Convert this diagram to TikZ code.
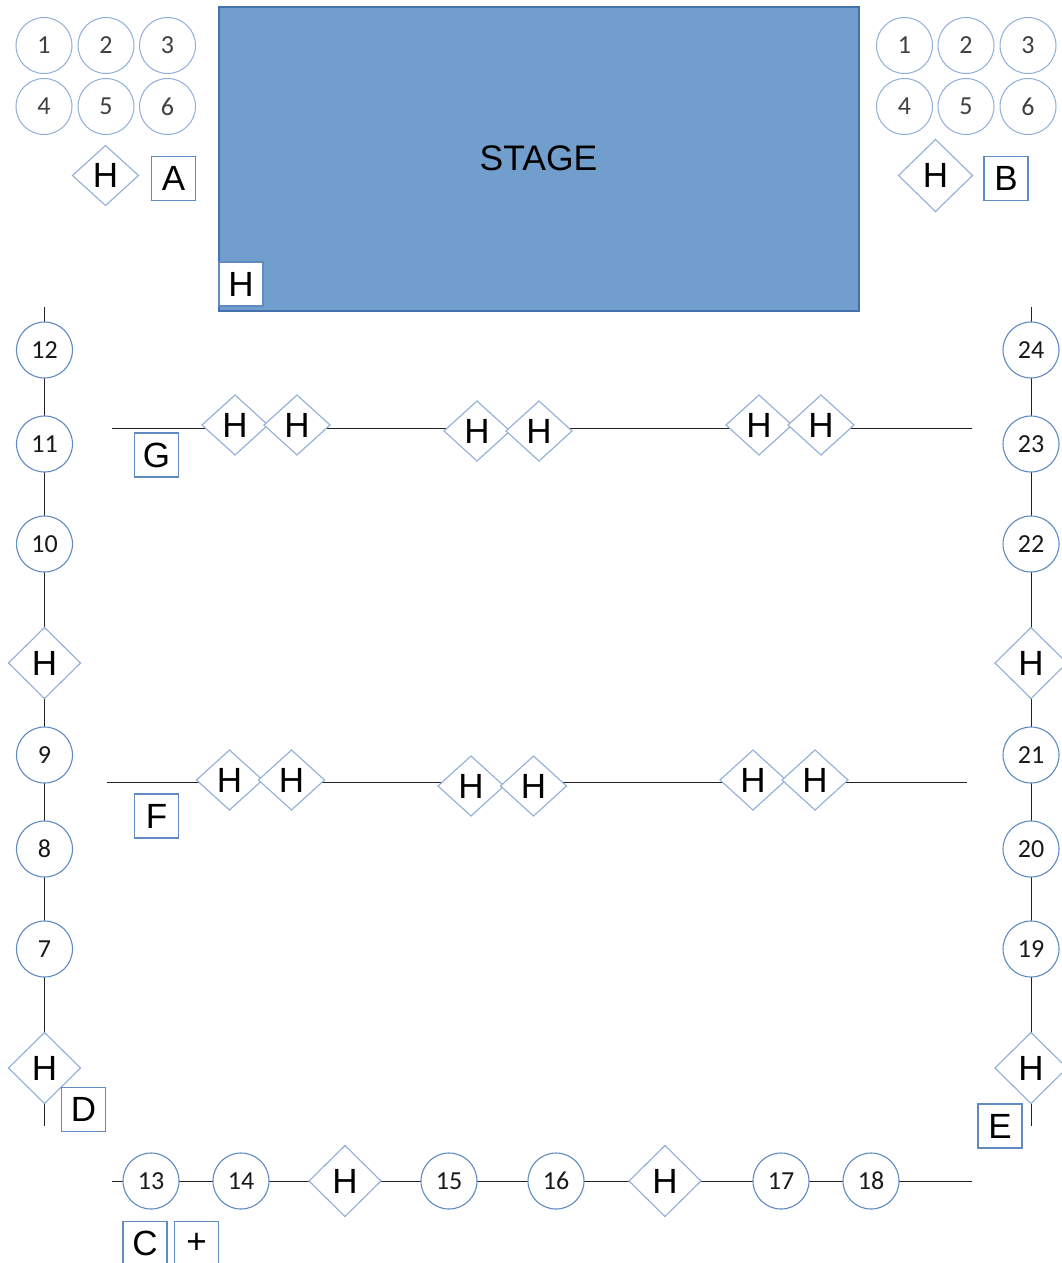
\documentclass[tikz,border=0pt]{standalone}
\usepackage{fontspec}
\setmainfont{Liberation Sans}
\newfontfamily\digitfont{Carlito}
\usetikzlibrary{shapes.geometric,backgrounds}
\definecolor{edgeblue}{HTML}{5F8AC2}
\definecolor{paleblue}{HTML}{8FAED8}
\definecolor{stageblue}{HTML}{729ECE}
\definecolor{stageedge}{HTML}{4472AC}
\definecolor{inkline}{HTML}{222222}
\tikzset{
  seat/.style={circle,draw=edgeblue,line width=1.1pt,fill=white,minimum size=56pt,inner sep=0pt,outer sep=0pt,font=\digitfont\fontsize{26}{26}\selectfont,text=black!90},
  seatpale/.style={seat,draw=paleblue,line width=1pt,text=black!75},
  gate/.style={diamond,draw=paleblue,line width=1.1pt,fill=white,minimum width=66pt,minimum height=60pt,inner sep=0pt,outer sep=0pt,font=\fontsize{35}{35}\selectfont},
  gatebig/.style={gate,draw=paleblue,minimum width=72pt,minimum height=71pt},
  tagbox/.style={rectangle,draw=edgeblue,line width=1.4pt,fill=white,minimum size=44pt,inner sep=0pt,outer sep=0pt,font=\fontsize{35}{35}\selectfont},
  rail/.style={draw=inkline,line width=1pt}
}
\begin{document}
\begin{tikzpicture}[x=1pt,y=-1pt]
\useasboundingbox (0,0) rectangle (1061,1263);
% stage
\node[rectangle,draw=stageedge,line width=1.2pt,fill=stageblue,minimum width=640pt,minimum height=304pt,inner sep=0pt,outer sep=0pt] (stage) at (539,159) {};
\node[font=\fontsize{35.5}{35.5}\selectfont,inner sep=0pt] (stagetext) at (538.5,158) {STAGE};
\node[tagbox] (stageH) at (241,284) {H};
% block A
\node[seatpale] (a1) at (44,45.5) {1};
\node[seatpale] (a2) at (106,45.5) {2};
\node[seatpale] (a3) at (167.5,45.5) {3};
\node[seatpale] (a4) at (44,106.5) {4};
\node[seatpale] (a5) at (106,106.5) {5};
\node[seatpale] (a6) at (167.5,106.5) {6};
\node[gate] (aH) at (105.5,175.5) {H};
\node[tagbox] (tagA) at (173.5,178.5) {A};
% block B
\node[seatpale] (b1) at (904.5,45.5) {1};
\node[seatpale] (b2) at (966,45.5) {2};
\node[seatpale] (b3) at (1028,45.5) {3};
\node[seatpale] (b4) at (904.5,106.5) {4};
\node[seatpale] (b5) at (966,106.5) {5};
\node[seatpale] (b6) at (1028,106.5) {6};
\node[gate,minimum width=74pt,minimum height=72pt] (bH) at (935.5,175.5) {H};
\node[tagbox] (tagB) at (1006,178.5) {B};
% left column
\coordinate (ltop) at (44.5,307);
\coordinate (lbot) at (44.5,1126);
\node[seat] (n12) at (44.5,350) {12};
\node[seat] (n11) at (44.5,444) {11};
\node[seat] (n10) at (44.5,544) {10};
\node[gatebig] (lH1) at (44.5,663) {H};
\node[seat] (n9) at (44.5,755) {9};
\node[seat] (n8) at (44.5,849) {8};
\node[seat] (n7) at (44.5,949) {7};
\node[gatebig] (lH2) at (44.5,1068) {H};
\node[tagbox] (tagD) at (83.5,1109.5) {D};
% right column
\coordinate (rtop) at (1031,307);
\coordinate (rbot) at (1031,1126);
\node[seat] (n24) at (1031,350) {24};
\node[seat] (n23) at (1031,444) {23};
\node[seat] (n22) at (1031,544) {22};
\node[gatebig] (rH1) at (1031,663) {H};
\node[seat] (n21) at (1031,755) {21};
\node[seat] (n20) at (1031,849) {20};
\node[seat] (n19) at (1031,949) {19};
\node[gatebig] (rH2) at (1031,1068) {H};
\node[tagbox] (tagE) at (1000,1126) {E};
% row G
\coordinate (gl) at (112,428);
\coordinate (gr) at (972,428);
\node[gate] (g1) at (235,425) {H};
\node[gate] (g2) at (297,425) {H};
\node[gate] (g3) at (477,431) {H};
\node[gate] (g4) at (539,431) {H};
\node[gate] (g5) at (759,425) {H};
\node[gate] (g6) at (821,425) {H};
\node[tagbox] (tagG) at (156.5,455) {G};
% row F
\coordinate (fl) at (107,782);
\coordinate (fr) at (967,782);
\node[gate] (f1) at (229.5,780) {H};
\node[gate] (f2) at (291.5,780) {H};
\node[gate] (f3) at (471,786) {H};
\node[gate] (f4) at (533.5,786) {H};
\node[gate] (f5) at (753,780) {H};
\node[gate] (f6) at (815,780) {H};
\node[tagbox] (tagF) at (156.5,816) {F};
% bottom row
\coordinate (cl) at (112,1181);
\coordinate (cr) at (972,1181);
\node[seat] (n13) at (151,1181) {13};
\node[seat] (n14) at (241,1181) {14};
\node[gatebig] (cH1) at (345,1181) {H};
\node[seat] (n15) at (449,1181) {15};
\node[seat] (n16) at (556,1181) {16};
\node[gatebig] (cH2) at (665,1181) {H};
\node[seat] (n17) at (781,1181) {17};
\node[seat] (n18) at (871,1181) {18};
\node[tagbox] (tagC) at (145,1243.5) {C};
\node[tagbox] (tagPlus) at (196.5,1243.5) {+};
% connectors
\begin{scope}[on background layer]
\path[rail] (ltop) -- (n12) -- (n11) -- (n10) -- (lH1) -- (n9) -- (n8) -- (n7) -- (lH2) -- (lbot);
\path[rail] (rtop) -- (n24) -- (n23) -- (n22) -- (rH1) -- (n21) -- (n20) -- (n19) -- (rH2) -- (rbot);
\path[rail] (gl) -- (g1 |- gl) (g2 |- gl) -- (g3 |- gl) (g4 |- gl) -- (g5 |- gl) (g6 |- gl) -- (gr);
\path[rail] (fl) -- (f1 |- fl) (f2 |- fl) -- (f3 |- fl) (f4 |- fl) -- (f5 |- fl) (f6 |- fl) -- (fr);
\path[rail] (cl) -- (n13) -- (n14) -- (cH1) -- (n15) -- (n16) -- (cH2) -- (n17) -- (n18) -- (cr);
\end{scope}
\end{tikzpicture}
\end{document}
